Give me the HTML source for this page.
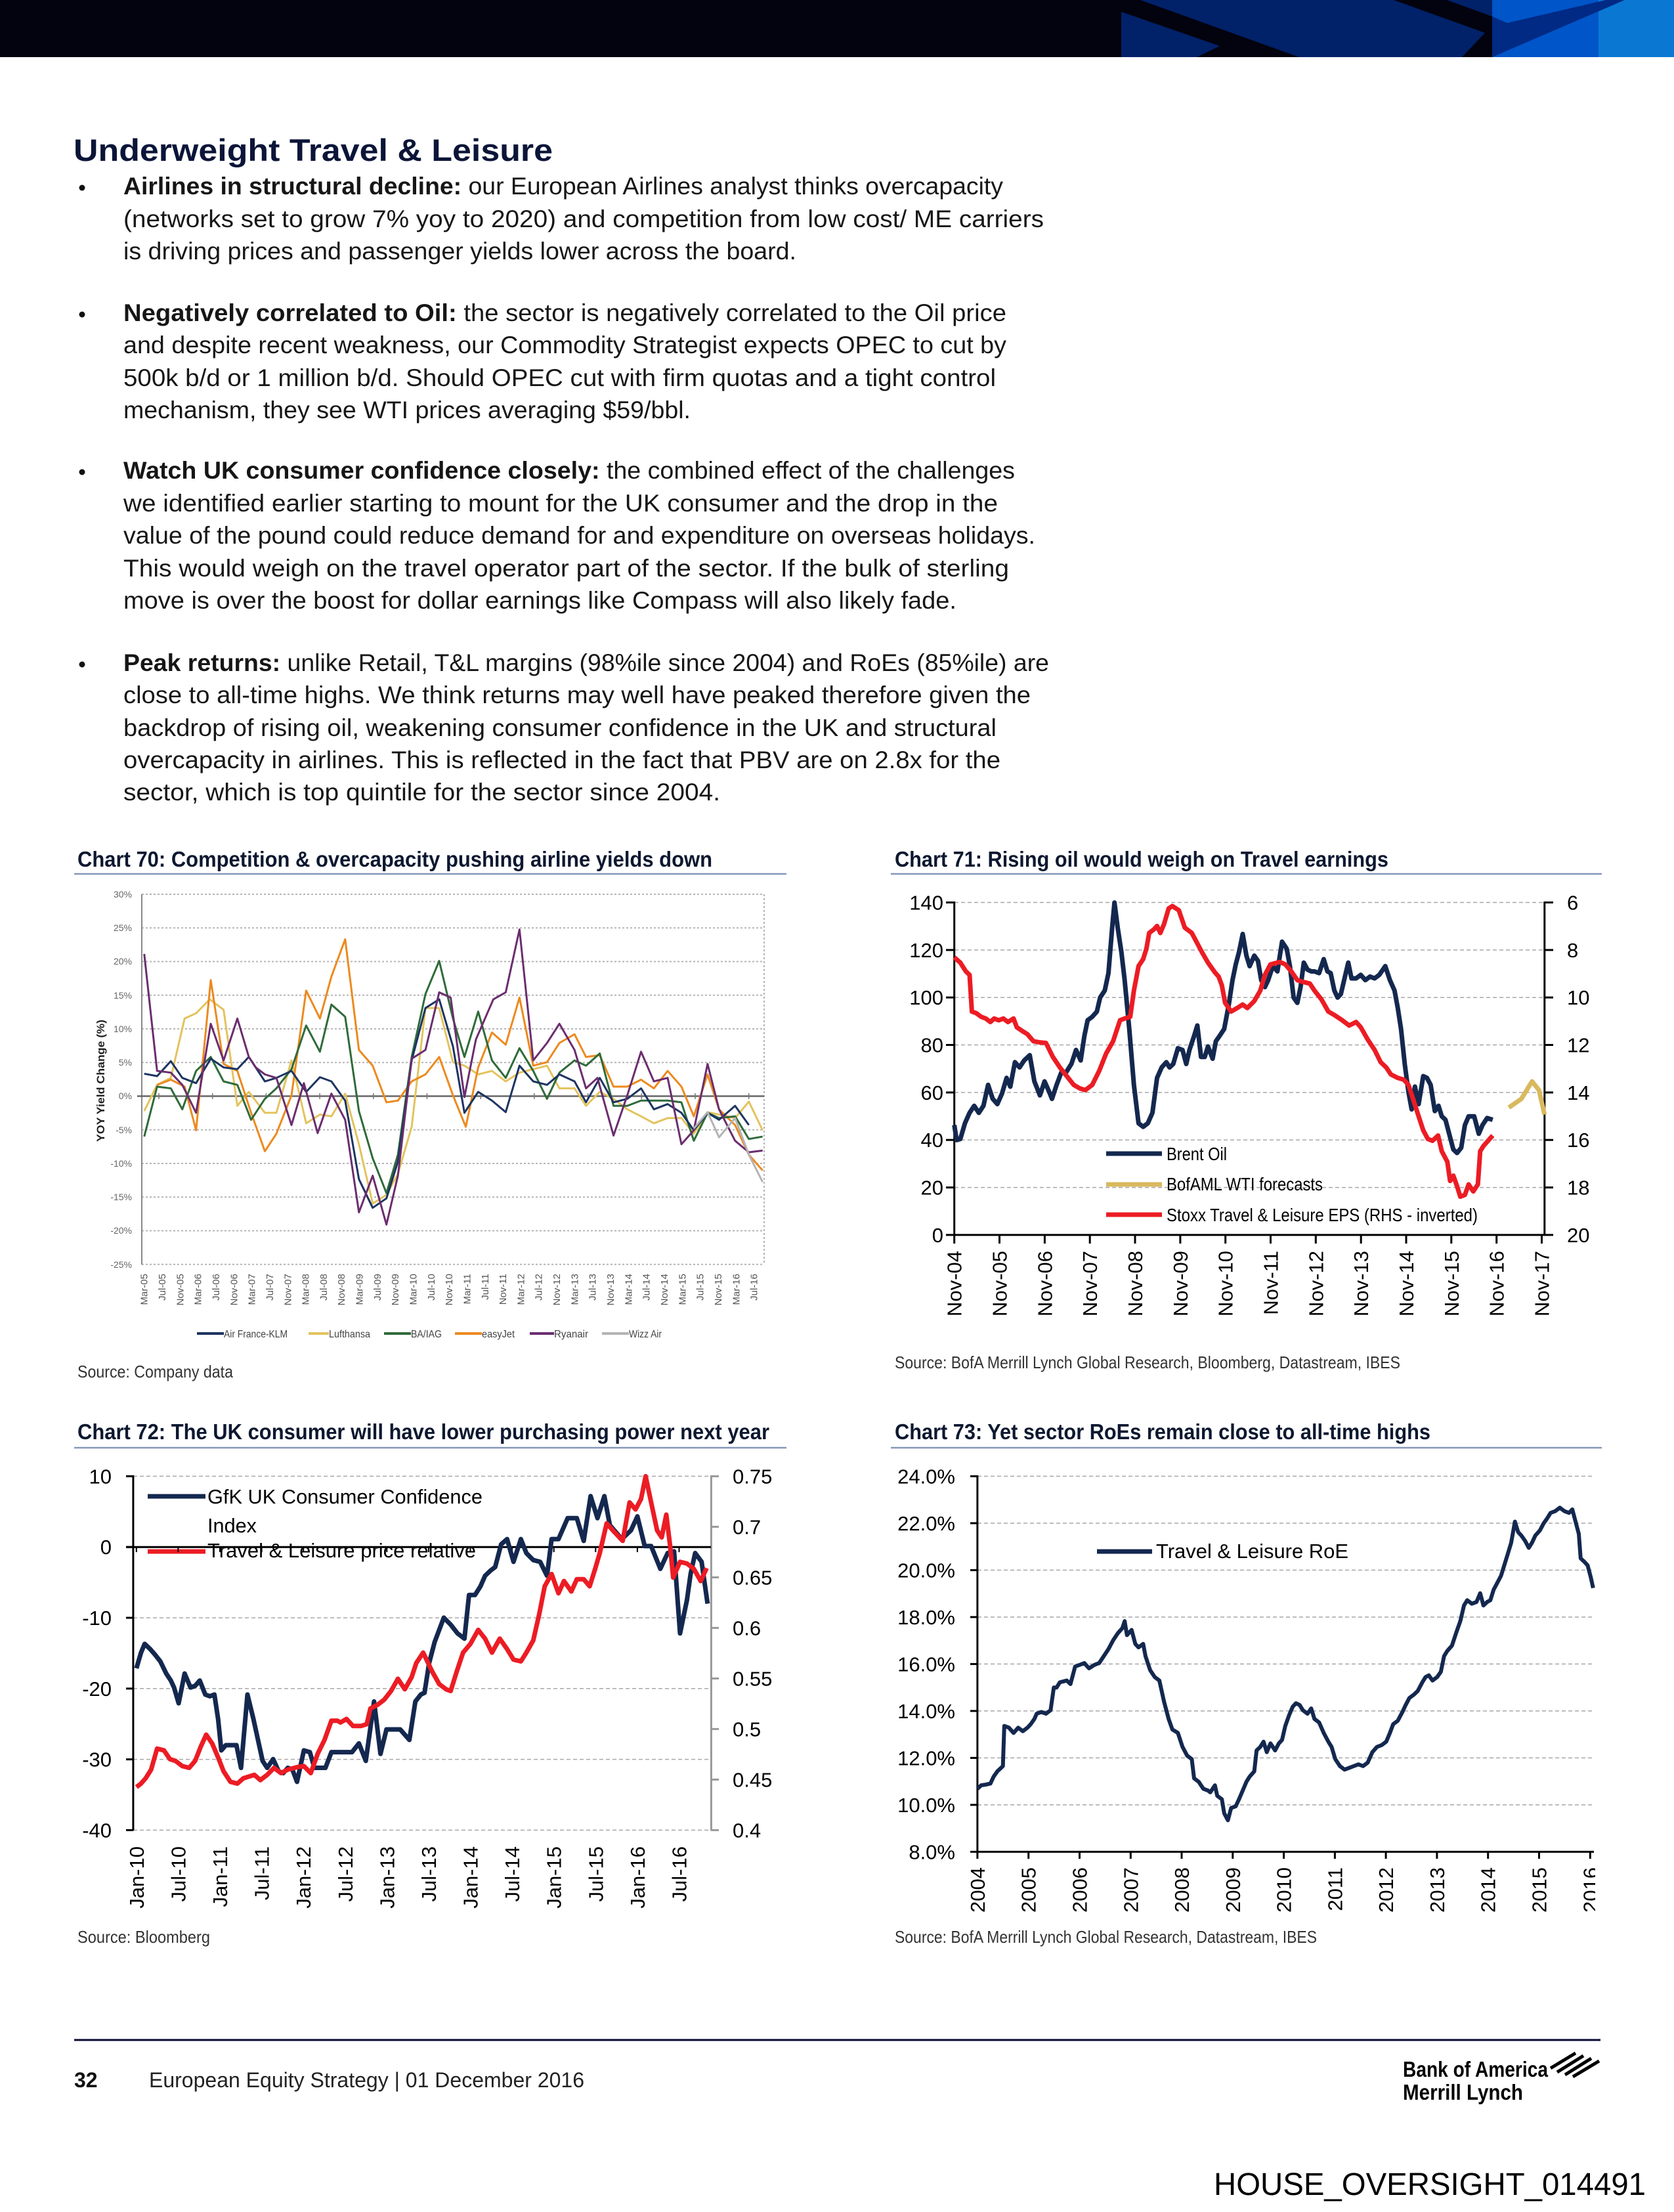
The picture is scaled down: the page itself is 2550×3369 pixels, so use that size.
<!DOCTYPE html>
<html><head><meta charset="utf-8"><style>
html,body{margin:0;padding:0;background:#fff}
svg{display:block}
text{font-family:"Liberation Sans",sans-serif}
</style></head><body>
<svg width="2550" height="3369" viewBox="0 0 2550 3369" xmlns="http://www.w3.org/2000/svg">
<defs><clipPath id="c73" clipPathUnits="userSpaceOnUse"><rect x="1350" y="2210" width="1080" height="740"/></clipPath></defs>
<rect width="2550" height="3369" fill="#fff"/>
<!-- header -->
<rect x="0" y="0" width="2550" height="87" fill="#03030f"/>
<rect x="1708" y="0" width="565" height="87" fill="#012169"/>
<polygon points="1708,0 1737,0 1979,87 1823,87 1858,70 1708,18" fill="#03030f"/>
<polygon points="2123,0 2204,0 2273,25 2273,87 2227,87 2262,50" fill="#03030f"/>
<rect x="2273" y="0" width="162" height="87" fill="#0055c8"/>
<rect x="2435" y="0" width="115" height="87" fill="#0a78d2"/>
<polygon points="2273,25 2296,35 2446,0 2475,0 2273,87" fill="#012a85"/>
<!-- title -->
<text x="112" y="245" font-size="47" font-weight="bold" fill="#0b1538" textLength="730" lengthAdjust="spacingAndGlyphs">Underweight Travel &amp; Leisure</text>
<g font-size="37" fill="#161616">
<circle cx="125" cy="286" r="4.5" fill="#111"/>
<text x="188" y="296" textLength="1340" lengthAdjust="spacingAndGlyphs"><tspan font-weight="bold">Airlines in structural decline:</tspan> our European Airlines analyst thinks overcapacity</text>
<text x="188" y="346" textLength="1402" lengthAdjust="spacingAndGlyphs">(networks set to grow 7% yoy to 2020) and competition from low cost/ ME carriers</text>
<text x="188" y="395" textLength="1025" lengthAdjust="spacingAndGlyphs">is driving prices and passenger yields lower across the board.</text>
<circle cx="125" cy="479" r="4.5" fill="#111"/>
<text x="188" y="489" textLength="1345" lengthAdjust="spacingAndGlyphs"><tspan font-weight="bold">Negatively correlated to Oil:</tspan> the sector is negatively correlated to the Oil price</text>
<text x="188" y="538" textLength="1345" lengthAdjust="spacingAndGlyphs">and despite recent weakness, our Commodity Strategist expects OPEC to cut by</text>
<text x="188" y="588" textLength="1329" lengthAdjust="spacingAndGlyphs">500k b/d or 1 million b/d. Should OPEC cut with firm quotas and a tight control</text>
<text x="188" y="637" textLength="864" lengthAdjust="spacingAndGlyphs">mechanism, they see WTI prices averaging $59/bbl.</text>
<circle cx="125" cy="719" r="4.5" fill="#111"/>
<text x="188" y="729" textLength="1358" lengthAdjust="spacingAndGlyphs"><tspan font-weight="bold">Watch UK consumer confidence closely:</tspan> the combined effect of the challenges</text>
<text x="188" y="779" textLength="1332" lengthAdjust="spacingAndGlyphs">we identified earlier starting to mount for the UK consumer and the drop in the</text>
<text x="188" y="828" textLength="1389" lengthAdjust="spacingAndGlyphs">value of the pound could reduce demand for and expenditure on overseas holidays.</text>
<text x="188" y="878" textLength="1349" lengthAdjust="spacingAndGlyphs">This would weigh on the travel operator part of the sector. If the bulk of sterling</text>
<text x="188" y="927" textLength="1269" lengthAdjust="spacingAndGlyphs">move is over the boost for dollar earnings like Compass will also likely fade.</text>
<circle cx="125" cy="1012" r="4.5" fill="#111"/>
<text x="188" y="1022" textLength="1410" lengthAdjust="spacingAndGlyphs"><tspan font-weight="bold">Peak returns:</tspan> unlike Retail, T&amp;L margins (98%ile since 2004) and RoEs (85%ile) are</text>
<text x="188" y="1071" textLength="1382" lengthAdjust="spacingAndGlyphs">close to all-time highs. We think returns may well have peaked therefore given the</text>
<text x="188" y="1121" textLength="1330" lengthAdjust="spacingAndGlyphs">backdrop of rising oil, weakening consumer confidence in the UK and structural</text>
<text x="188" y="1170" textLength="1336" lengthAdjust="spacingAndGlyphs">overcapacity in airlines. This is reflected in the fact that PBV are on 2.8x for the</text>
<text x="188" y="1219" textLength="909" lengthAdjust="spacingAndGlyphs">sector, which is top quintile for the sector since 2004.</text>
</g>

<!-- chart titles -->
<g font-size="33" font-weight="bold" fill="#0d1830">
<text x="118" y="1320" textLength="967" lengthAdjust="spacingAndGlyphs">Chart 70: Competition &amp; overcapacity pushing airline yields down</text>
<text x="1363" y="1320" textLength="752" lengthAdjust="spacingAndGlyphs">Chart 71: Rising oil would weigh on Travel earnings</text>
<text x="118" y="2192" textLength="1054" lengthAdjust="spacingAndGlyphs">Chart 72: The UK consumer will have lower purchasing power next year</text>
<text x="1363" y="2192" textLength="816" lengthAdjust="spacingAndGlyphs">Chart 73: Yet sector RoEs remain close to all-time highs</text>
</g>
<g stroke="#8497b8" stroke-width="2.5">
<line x1="113" y1="1331" x2="1198" y2="1331"/>
<line x1="1357" y1="1331" x2="2440" y2="1331"/>
<line x1="113" y1="2205" x2="1198" y2="2205"/>
<line x1="1357" y1="2205" x2="2440" y2="2205"/>
</g>
<!-- sources -->
<g font-size="26" fill="#333">
<text x="118" y="2098" textLength="237" lengthAdjust="spacingAndGlyphs">Source: Company data</text>
<text x="1363" y="2084" textLength="770" lengthAdjust="spacingAndGlyphs">Source: BofA Merrill Lynch Global Research, Bloomberg, Datastream, IBES</text>
<text x="118" y="2959" textLength="202" lengthAdjust="spacingAndGlyphs">Source: Bloomberg</text>
<text x="1363" y="2959" textLength="643" lengthAdjust="spacingAndGlyphs">Source: BofA Merrill Lynch Global Research, Datastream, IBES</text>
</g>

<!-- ===== CHART 70 ===== -->
<g stroke="#b5b5b5" stroke-width="2" stroke-dasharray="3,3">
<line x1="216" y1="1362" x2="1164" y2="1362"/>
<line x1="216" y1="1413.3" x2="1164" y2="1413.3"/>
<line x1="216" y1="1464.5" x2="1164" y2="1464.5"/>
<line x1="216" y1="1515.8" x2="1164" y2="1515.8"/>
<line x1="216" y1="1567" x2="1164" y2="1567"/>
<line x1="216" y1="1618.3" x2="1164" y2="1618.3"/>
<line x1="216" y1="1720.8" x2="1164" y2="1720.8"/>
<line x1="216" y1="1772" x2="1164" y2="1772"/>
<line x1="216" y1="1823.3" x2="1164" y2="1823.3"/>
<line x1="216" y1="1874.5" x2="1164" y2="1874.5"/>
<line x1="216" y1="1925.8" x2="1164" y2="1925.8"/>
<line x1="1164" y1="1362" x2="1164" y2="1926"/>
</g>
<line x1="216" y1="1362" x2="216" y2="1926" stroke="#888" stroke-width="2"/>
<line x1="209" y1="1669.5" x2="1164" y2="1669.5" stroke="#666" stroke-width="2.5"/>
<g stroke="#777" stroke-width="1.5">
<line x1="242" y1="1665" x2="242" y2="1674"/><line x1="323.7" y1="1665" x2="323.7" y2="1674"/><line x1="405.4" y1="1665" x2="405.4" y2="1674"/><line x1="487.1" y1="1665" x2="487.1" y2="1674"/><line x1="568.8" y1="1665" x2="568.8" y2="1674"/><line x1="650.5" y1="1665" x2="650.5" y2="1674"/><line x1="732.2" y1="1665" x2="732.2" y2="1674"/><line x1="813.9" y1="1665" x2="813.9" y2="1674"/><line x1="895.6" y1="1665" x2="895.6" y2="1674"/><line x1="977.3" y1="1665" x2="977.3" y2="1674"/><line x1="1059" y1="1665" x2="1059" y2="1674"/><line x1="1140.7" y1="1665" x2="1140.7" y2="1674"/>
</g>
<g font-size="14" fill="#666" text-anchor="end">
<text x="201" y="1367">30%</text><text x="201" y="1418">25%</text><text x="201" y="1469">20%</text><text x="201" y="1521">15%</text><text x="201" y="1572">10%</text><text x="201" y="1623">5%</text><text x="201" y="1674">0%</text><text x="201" y="1726">-5%</text><text x="201" y="1777">-10%</text><text x="201" y="1828">-15%</text><text x="201" y="1879">-20%</text><text x="201" y="1931">-25%</text>
</g>
<text transform="translate(159,1646) rotate(-90)" text-anchor="middle" font-size="17" font-weight="bold" fill="#222" textLength="186" lengthAdjust="spacingAndGlyphs">YOY Yield Change (%)</text>
<g font-size="15" fill="#555" text-anchor="end">
<text transform="translate(224.7,1940) rotate(-90)">Mar-05</text>
<text transform="translate(252,1940) rotate(-90)">Jul-05</text>
<text transform="translate(279.3,1940) rotate(-90)">Nov-05</text>
<text transform="translate(306.7,1940) rotate(-90)">Mar-06</text>
<text transform="translate(334,1940) rotate(-90)">Jul-06</text>
<text transform="translate(361.3,1940) rotate(-90)">Nov-06</text>
<text transform="translate(388.6,1940) rotate(-90)">Mar-07</text>
<text transform="translate(415.9,1940) rotate(-90)">Jul-07</text>
<text transform="translate(443.3,1940) rotate(-90)">Nov-07</text>
<text transform="translate(470.6,1940) rotate(-90)">Mar-08</text>
<text transform="translate(497.9,1940) rotate(-90)">Jul-08</text>
<text transform="translate(525.2,1940) rotate(-90)">Nov-08</text>
<text transform="translate(552.5,1940) rotate(-90)">Mar-09</text>
<text transform="translate(579.9,1940) rotate(-90)">Jul-09</text>
<text transform="translate(607.2,1940) rotate(-90)">Nov-09</text>
<text transform="translate(634.5,1940) rotate(-90)">Mar-10</text>
<text transform="translate(661.8,1940) rotate(-90)">Jul-10</text>
<text transform="translate(689.1,1940) rotate(-90)">Nov-10</text>
<text transform="translate(716.5,1940) rotate(-90)">Mar-11</text>
<text transform="translate(743.8,1940) rotate(-90)">Jul-11</text>
<text transform="translate(771.1,1940) rotate(-90)">Nov-11</text>
<text transform="translate(798.4,1940) rotate(-90)">Mar-12</text>
<text transform="translate(825.7,1940) rotate(-90)">Jul-12</text>
<text transform="translate(853.1,1940) rotate(-90)">Nov-12</text>
<text transform="translate(880.4,1940) rotate(-90)">Mar-13</text>
<text transform="translate(907.7,1940) rotate(-90)">Jul-13</text>
<text transform="translate(935,1940) rotate(-90)">Nov-13</text>
<text transform="translate(962.3,1940) rotate(-90)">Mar-14</text>
<text transform="translate(989.7,1940) rotate(-90)">Jul-14</text>
<text transform="translate(1017,1940) rotate(-90)">Nov-14</text>
<text transform="translate(1044.3,1940) rotate(-90)">Mar-15</text>
<text transform="translate(1071.6,1940) rotate(-90)">Jul-15</text>
<text transform="translate(1098.9,1940) rotate(-90)">Nov-15</text>
<text transform="translate(1126.3,1940) rotate(-90)">Mar-16</text>
<text transform="translate(1153.6,1940) rotate(-90)">Jul-16</text>
</g>
<g transform="matrix(0.6988 0 0 0.5319 110 1280)" fill="none" stroke-width="3" stroke-linejoin="round">
<polyline vector-effect="non-scaling-stroke" stroke="#e3c35e" points="157,775 185,700 215,680 245,510 270,495 300,455 330,485 360,760 385,720 420,780 445,780 478,630 510,810 540,785 565,790 595,725 625,870 655,1040 685,1015 710,955 740,820 770,480 800,480 830,635 855,645 885,670 915,660 945,690 975,665 1005,655 1035,645 1062,710 1095,710 1120,760 1150,720 1180,740 1210,770 1240,790 1268,810 1298,795 1328,795 1355,840 1385,778 1410,785 1445,795 1475,748 1505,830"/>
<polyline vector-effect="non-scaling-stroke" stroke="#ec8a1f" points="185,700 215,685 245,705 270,830 302,400 330,640 360,660 390,780 420,890 445,840 478,730 510,430 540,510 565,390 595,283 625,600 655,645 685,750 710,745 740,690 770,670 800,620 830,730 858,820 885,650 915,550 945,585 975,450 1005,645 1035,635 1062,580 1095,555 1120,620 1150,615 1180,705 1210,705 1240,685 1268,710 1298,660 1328,705 1355,790 1385,670 1410,770 1445,815 1475,900 1505,945"/>
<polyline vector-effect="non-scaling-stroke" stroke="#2f6b3a" points="157,848 185,705 215,710 240,770 270,660 302,620 330,690 360,700 390,800 420,740 445,710 478,655 510,530 540,605 565,470 595,505 625,775 655,910 685,1010 710,900 740,620 770,440 800,345 830,510 855,620 885,490 915,630 945,680 975,595 1005,660 1035,740 1062,665 1095,630 1120,645 1150,610 1180,760 1210,760 1240,745 1268,745 1298,745 1328,750 1355,860 1385,780 1410,795 1445,790 1475,855 1505,848"/>
<polyline vector-effect="non-scaling-stroke" stroke="#1d3461" points="157,668 185,675 215,632 240,680 270,695 302,625 330,650 360,655 385,620 420,690 445,680 478,660 510,720 540,678 565,690 595,745 625,970 655,1052 685,1025 710,920 740,630 770,480 800,455 830,590 855,780 885,720 915,745 945,778 975,645 1005,690 1035,700 1062,670 1095,690 1120,750 1150,680 1180,750 1210,740 1240,710 1268,770 1298,755 1328,780 1355,830 1385,780 1410,800 1445,760 1475,815"/>
<polyline vector-effect="non-scaling-stroke" stroke="#6b2d6f" points="157,325 185,660 215,665 240,700 270,780 302,525 330,630 360,510 385,620 400,650 420,670 445,680 478,815 505,695 535,838 565,725 595,800 625,1065 655,960 685,1100 710,960 740,625 770,600 800,435 825,450 855,735 880,570 918,455 945,435 975,255 1005,630 1035,580 1062,525 1095,600 1120,710 1145,680 1180,845 1210,730 1240,605 1268,690 1298,680 1328,870 1355,830 1385,640 1410,770 1445,860 1475,893 1505,888"/>
<polyline vector-effect="non-scaling-stroke" stroke="#b4b4b4" points="1355,825 1385,778 1410,850 1445,795 1475,900 1505,978"/>
</g>
<g stroke-width="4">
<line x1="300" y1="2031" x2="341" y2="2031" stroke="#1d3461"/>
<line x1="470" y1="2031" x2="501" y2="2031" stroke="#e3c35e"/>
<line x1="585" y1="2031" x2="626" y2="2031" stroke="#2f6b3a"/>
<line x1="693" y1="2031" x2="734" y2="2031" stroke="#ec8a1f"/>
<line x1="807" y1="2031" x2="844" y2="2031" stroke="#6b2d6f"/>
<line x1="917" y1="2031" x2="958" y2="2031" stroke="#b4b4b4"/>
</g>
<g font-size="16" fill="#444">
<text x="341" y="2037" textLength="97" lengthAdjust="spacingAndGlyphs">Air France-KLM</text>
<text x="501" y="2037" textLength="63" lengthAdjust="spacingAndGlyphs">Lufthansa</text>
<text x="626" y="2037" textLength="47" lengthAdjust="spacingAndGlyphs">BA/IAG</text>
<text x="734" y="2037" textLength="50" lengthAdjust="spacingAndGlyphs">easyJet</text>
<text x="844" y="2037" textLength="52" lengthAdjust="spacingAndGlyphs">Ryanair</text>
<text x="958" y="2037" textLength="50" lengthAdjust="spacingAndGlyphs">Wizz Air</text>
</g>

<!-- ===== CHART 71 ===== -->
<g stroke="#a8a8a8" stroke-width="1.5" stroke-dasharray="6,4">
<line x1="1454" y1="1374.5" x2="2353" y2="1374.5"/>
<line x1="1454" y1="1446.9" x2="2353" y2="1446.9"/>
<line x1="1454" y1="1519.2" x2="2353" y2="1519.2"/>
<line x1="1454" y1="1591.5" x2="2353" y2="1591.5"/>
<line x1="1454" y1="1663.9" x2="2353" y2="1663.9"/>
<line x1="1454" y1="1736.2" x2="2353" y2="1736.2"/>
<line x1="1454" y1="1808.6" x2="2353" y2="1808.6"/>
</g>
<g stroke="#000" stroke-width="3">
<line x1="1453.7" y1="1373" x2="1453.7" y2="1882"/>
<line x1="2352.8" y1="1373" x2="2352.8" y2="1882"/>
<line x1="1441" y1="1880.9" x2="2366" y2="1880.9"/>
<line x1="1441" y1="1374.5" x2="1454" y2="1374.5"/><line x1="1441" y1="1446.9" x2="1454" y2="1446.9"/><line x1="1441" y1="1519.2" x2="1454" y2="1519.2"/><line x1="1441" y1="1591.5" x2="1454" y2="1591.5"/><line x1="1441" y1="1663.9" x2="1454" y2="1663.9"/><line x1="1441" y1="1736.2" x2="1454" y2="1736.2"/><line x1="1441" y1="1808.6" x2="1454" y2="1808.6"/>
<line x1="2353" y1="1374.5" x2="2366" y2="1374.5"/><line x1="2353" y1="1446.9" x2="2366" y2="1446.9"/><line x1="2353" y1="1519.2" x2="2366" y2="1519.2"/><line x1="2353" y1="1591.5" x2="2366" y2="1591.5"/><line x1="2353" y1="1663.9" x2="2366" y2="1663.9"/><line x1="2353" y1="1736.2" x2="2366" y2="1736.2"/><line x1="2353" y1="1808.6" x2="2366" y2="1808.6"/>
<line x1="1453.7" y1="1881" x2="1453.7" y2="1894"/><line x1="1522.5" y1="1881" x2="1522.5" y2="1894"/><line x1="1591.4" y1="1881" x2="1591.4" y2="1894"/><line x1="1660.2" y1="1881" x2="1660.2" y2="1894"/><line x1="1729" y1="1881" x2="1729" y2="1894"/><line x1="1797.9" y1="1881" x2="1797.9" y2="1894"/><line x1="1866.7" y1="1881" x2="1866.7" y2="1894"/><line x1="1935.5" y1="1881" x2="1935.5" y2="1894"/><line x1="2004.3" y1="1881" x2="2004.3" y2="1894"/><line x1="2073.2" y1="1881" x2="2073.2" y2="1894"/><line x1="2142" y1="1881" x2="2142" y2="1894"/><line x1="2210.8" y1="1881" x2="2210.8" y2="1894"/><line x1="2279.7" y1="1881" x2="2279.7" y2="1894"/><line x1="2348.5" y1="1881" x2="2348.5" y2="1894"/>
</g>
<g font-size="31" fill="#000">
<g text-anchor="end">
<text x="1437" y="1385.5">140</text><text x="1437" y="1457.9">120</text><text x="1437" y="1530.2">100</text><text x="1437" y="1602.5">80</text><text x="1437" y="1674.9">60</text><text x="1437" y="1747.2">40</text><text x="1437" y="1819.6">20</text><text x="1437" y="1891.9">0</text>
</g>
<text x="2387" y="1385.5">6</text><text x="2387" y="1457.9">8</text><text x="2387" y="1530.2">10</text><text x="2387" y="1602.5">12</text><text x="2387" y="1674.9">14</text><text x="2387" y="1747.2">16</text><text x="2387" y="1819.6">18</text><text x="2387" y="1891.9">20</text>
<g text-anchor="end">
<text transform="translate(1464.7,1905) rotate(-90)">Nov-04</text>
<text transform="translate(1533.5,1905) rotate(-90)">Nov-05</text>
<text transform="translate(1602.4,1905) rotate(-90)">Nov-06</text>
<text transform="translate(1671.2,1905) rotate(-90)">Nov-07</text>
<text transform="translate(1740,1905) rotate(-90)">Nov-08</text>
<text transform="translate(1808.9,1905) rotate(-90)">Nov-09</text>
<text transform="translate(1877.7,1905) rotate(-90)">Nov-10</text>
<text transform="translate(1946.5,1905) rotate(-90)">Nov-11</text>
<text transform="translate(2015.3,1905) rotate(-90)">Nov-12</text>
<text transform="translate(2084.2,1905) rotate(-90)">Nov-13</text>
<text transform="translate(2153,1905) rotate(-90)">Nov-14</text>
<text transform="translate(2221.8,1905) rotate(-90)">Nov-15</text>
<text transform="translate(2290.7,1905) rotate(-90)">Nov-16</text>
<text transform="translate(2359.5,1905) rotate(-90)">Nov-17</text>
</g>
</g>
<g transform="matrix(0.7052 0 0 0.5319 1350 1280)" fill="none" stroke-width="7" stroke-linejoin="round">
<polyline vector-effect="non-scaling-stroke" stroke="#14284f" points="147,815 152,858 160,855 170,810 180,780 190,760 200,780 210,760 220,700 230,740 240,755 250,725 260,680 268,705 278,635 288,650 298,630 310,615 320,690 332,730 342,690 352,720 358,740 368,700 378,665 388,665 400,640 410,600 420,630 428,560 435,515 445,505 455,490 462,450 472,430 480,380 488,250 493,178 500,250 508,320 515,400 525,540 535,700 545,810 555,820 565,810 575,780 585,680 595,650 605,635 612,650 620,640 630,595 640,600 648,640 655,600 665,560 672,530 680,620 688,620 695,590 705,625 712,575 720,560 730,540 740,470 748,400 755,355 762,320 770,268 778,330 785,360 795,330 803,345 810,400 818,420 825,400 835,360 845,375 855,290 865,310 872,360 880,450 888,465 895,420 902,350 910,370 918,375 925,375 935,380 945,340 953,375 960,380 968,430 975,450 982,440 990,395 998,350 1005,395 1015,395 1025,385 1035,400 1045,390 1055,395 1065,385 1078,360 1088,400 1098,430 1105,480 1112,540 1120,640 1128,720 1135,770 1142,705 1150,755 1160,675 1168,680 1176,700 1185,775 1193,760 1200,790 1208,800 1216,840 1225,885 1233,895 1242,880 1250,815 1258,790 1270,790 1280,840 1288,815 1298,795 1310,800"/>
<polyline vector-effect="non-scaling-stroke" stroke="#d9b95e" points="1345,765 1372,740 1395,690 1410,715 1422,785"/>
<polyline vector-effect="non-scaling-stroke" stroke="#ec1c24" points="147,335 160,350 172,375 180,385 185,490 195,495 205,505 215,510 225,520 233,510 243,515 253,510 263,520 275,510 282,535 293,545 305,555 318,575 330,578 345,580 360,620 375,650 390,675 405,700 418,710 430,715 445,700 460,660 475,610 490,575 505,515 515,510 527,505 535,430 545,360 555,340 562,310 568,265 578,255 585,245 592,265 600,240 610,195 618,188 632,200 645,250 660,265 670,290 682,320 695,350 710,378 718,390 725,415 732,465 745,490 758,480 770,470 780,480 795,460 808,430 818,385 830,355 850,348 862,355 875,375 888,400 900,405 915,410 925,430 940,455 955,490 968,500 985,515 1000,530 1015,520 1025,535 1040,570 1055,600 1068,635 1080,650 1090,670 1105,680 1118,685 1128,700 1138,740 1150,790 1160,830 1170,855 1180,860 1192,845 1200,890 1212,920 1218,975 1225,960 1233,990 1240,1020 1250,1015 1258,985 1268,1005 1278,985 1283,890 1290,875 1300,860 1310,845"/>
</g>
<g stroke-width="7">
<line x1="1685" y1="1757" x2="1770" y2="1757" stroke="#14284f"/>
<line x1="1685" y1="1804" x2="1770" y2="1804" stroke="#d9b95e"/>
<line x1="1685" y1="1850" x2="1770" y2="1850" stroke="#ec1c24"/>
</g>
<g font-size="28" fill="#000">
<text x="1777" y="1767" textLength="92" lengthAdjust="spacingAndGlyphs">Brent Oil</text>
<text x="1777" y="1813" textLength="238" lengthAdjust="spacingAndGlyphs">BofAML WTI forecasts</text>
<text x="1777" y="1860" textLength="474" lengthAdjust="spacingAndGlyphs">Stoxx Travel &amp; Leisure EPS (RHS - inverted)</text>
</g>

<!-- ===== CHART 72 ===== -->
<g stroke="#a8a8a8" stroke-width="1.5" stroke-dasharray="6,4">
<line x1="203" y1="2248.4" x2="1083" y2="2248.4"/>
<line x1="203" y1="2464" x2="1083" y2="2464"/>
<line x1="203" y1="2571.8" x2="1083" y2="2571.8"/>
<line x1="203" y1="2679.6" x2="1083" y2="2679.6"/>
<line x1="203" y1="2787.4" x2="1083" y2="2787.4"/>
</g>
<g stroke="#000" stroke-width="3">
<line x1="202.9" y1="2247" x2="202.9" y2="2788"/>
<line x1="192" y1="2248.4" x2="203" y2="2248.4"/><line x1="192" y1="2356.2" x2="203" y2="2356.2"/><line x1="192" y1="2464" x2="203" y2="2464"/><line x1="192" y1="2571.8" x2="203" y2="2571.8"/><line x1="192" y1="2679.6" x2="203" y2="2679.6"/><line x1="192" y1="2787.4" x2="203" y2="2787.4"/>
</g>
<g stroke="#999" stroke-width="3">
<line x1="1083.4" y1="2247" x2="1083.4" y2="2788"/>
<line x1="1083" y1="2248.4" x2="1095" y2="2248.4"/><line x1="1083" y1="2325.4" x2="1095" y2="2325.4"/><line x1="1083" y1="2402.4" x2="1095" y2="2402.4"/><line x1="1083" y1="2479.4" x2="1095" y2="2479.4"/><line x1="1083" y1="2556.4" x2="1095" y2="2556.4"/><line x1="1083" y1="2633.4" x2="1095" y2="2633.4"/><line x1="1083" y1="2710.4" x2="1095" y2="2710.4"/><line x1="1083" y1="2787.4" x2="1095" y2="2787.4"/>
</g>
<g font-size="31" fill="#000">
<g text-anchor="end">
<text x="170" y="2259.4">10</text><text x="170" y="2367.2">0</text><text x="170" y="2475">-10</text><text x="170" y="2582.8">-20</text><text x="170" y="2690.6">-30</text><text x="170" y="2798.4">-40</text>
</g>
<text x="1116" y="2259.4">0.75</text><text x="1116" y="2336.4">0.7</text><text x="1116" y="2413.4">0.65</text><text x="1116" y="2490.4">0.6</text><text x="1116" y="2567.4">0.55</text><text x="1116" y="2644.4">0.5</text><text x="1116" y="2721.4">0.45</text><text x="1116" y="2798.4">0.4</text>
<g text-anchor="end">
<text transform="translate(218.8,2812) rotate(-90)">Jan-10</text>
<text transform="translate(282.4,2812) rotate(-90)">Jul-10</text>
<text transform="translate(346,2812) rotate(-90)">Jan-11</text>
<text transform="translate(409.6,2812) rotate(-90)">Jul-11</text>
<text transform="translate(473.2,2812) rotate(-90)">Jan-12</text>
<text transform="translate(536.8,2812) rotate(-90)">Jul-12</text>
<text transform="translate(600.3,2812) rotate(-90)">Jan-13</text>
<text transform="translate(663.9,2812) rotate(-90)">Jul-13</text>
<text transform="translate(727.5,2812) rotate(-90)">Jan-14</text>
<text transform="translate(791.1,2812) rotate(-90)">Jul-14</text>
<text transform="translate(854.7,2812) rotate(-90)">Jan-15</text>
<text transform="translate(918.3,2812) rotate(-90)">Jul-15</text>
<text transform="translate(981.9,2812) rotate(-90)">Jan-16</text>
<text transform="translate(1045.5,2812) rotate(-90)">Jul-16</text>
</g>
</g>
<g stroke-width="7">
<line x1="225" y1="2279" x2="313" y2="2279" stroke="#14284f"/>
<line x1="225" y1="2363" x2="313" y2="2363" stroke="#ec1c24"/>
</g>
<g font-size="31" fill="#000">
<text x="316" y="2290" textLength="419" lengthAdjust="spacingAndGlyphs">GfK UK Consumer Confidence</text>
<text x="316" y="2334" textLength="75" lengthAdjust="spacingAndGlyphs">Index</text>
<text x="316" y="2372" textLength="409" lengthAdjust="spacingAndGlyphs">Travel &amp; Leisure price relative</text>
</g>
<line x1="192" y1="2356.2" x2="1083" y2="2356.2" stroke="#000" stroke-width="3"/>
<g stroke="#000" stroke-width="2">
<line x1="207.8" y1="2356" x2="207.8" y2="2364"/><line x1="271.4" y1="2356" x2="271.4" y2="2364"/><line x1="335" y1="2356" x2="335" y2="2364"/><line x1="398.6" y1="2356" x2="398.6" y2="2364"/><line x1="462.2" y1="2356" x2="462.2" y2="2364"/><line x1="525.8" y1="2356" x2="525.8" y2="2364"/><line x1="589.3" y1="2356" x2="589.3" y2="2364"/><line x1="652.9" y1="2356" x2="652.9" y2="2364"/><line x1="716.5" y1="2356" x2="716.5" y2="2364"/><line x1="780.1" y1="2356" x2="780.1" y2="2364"/><line x1="843.7" y1="2356" x2="843.7" y2="2364"/><line x1="907.3" y1="2356" x2="907.3" y2="2364"/><line x1="970.9" y1="2356" x2="970.9" y2="2364"/><line x1="1034.5" y1="2356" x2="1034.5" y2="2364"/>
</g>
<g transform="matrix(0.6988 0 0 0.5319 110 2150)" fill="none" stroke-width="7" stroke-linejoin="round">
<polyline vector-effect="non-scaling-stroke" stroke="#14284f" points="140,735 150,690 158,665 170,680 180,695 192,715 205,750 215,770 222,790 232,835 245,750 258,790 268,785 278,770 290,810 300,815 310,810 318,880 325,970 335,955 348,955 358,955 368,1020 382,810 395,880 405,940 415,1000 425,1020 438,995 450,1030 460,1035 470,1020 480,1025 490,1060 505,970 518,975 528,1020 540,1020 552,1020 565,975 580,975 595,975 610,975 625,950 640,1000 658,830 672,980 685,910 700,910 715,910 735,940 748,830 760,810 768,805 778,720 790,660 800,625 810,590 825,610 840,635 855,650 865,525 878,525 890,500 900,470 912,455 922,445 935,380 948,365 962,430 978,365 990,405 1005,425 1020,430 1035,470 1045,365 1060,365 1080,305 1100,305 1115,370 1130,242 1145,305 1160,242 1172,325 1185,345 1198,365 1218,340 1232,300 1248,385 1262,385 1282,450 1298,405 1312,400 1325,635 1340,540 1348,465 1358,405 1372,430 1385,550"/>
<polyline vector-effect="non-scaling-stroke" stroke="#ec1c24" points="140,1075 150,1065 160,1050 172,1025 185,965 200,970 213,995 225,1000 240,1015 255,1020 268,1000 280,960 292,925 305,950 318,990 330,1030 345,1060 360,1065 373,1050 385,1045 397,1040 410,1055 425,1040 440,1020 455,1035 470,1025 490,1018 505,1015 520,1035 535,980 550,940 565,885 578,885 585,890 598,880 612,900 630,900 642,895 650,850 665,840 680,825 695,800 710,765 725,795 740,760 750,720 765,690 785,745 800,780 815,795 825,800 838,745 852,690 868,665 885,625 900,650 915,690 932,650 948,680 962,710 978,715 990,690 1005,655 1018,580 1030,500 1045,465 1060,520 1072,485 1088,515 1100,480 1115,480 1128,500 1140,450 1150,405 1165,320 1182,345 1200,370 1215,260 1228,280 1240,250 1250,185 1262,260 1275,340 1285,360 1295,295 1303,380 1310,475 1325,430 1340,435 1355,450 1370,485 1383,448"/>
</g>

<!-- ===== CHART 73 ===== -->
<g stroke="#a8a8a8" stroke-width="1.5" stroke-dasharray="6,4">
<line x1="1489" y1="2248.4" x2="2427" y2="2248.4"/>
<line x1="1489" y1="2319.9" x2="2427" y2="2319.9"/>
<line x1="1489" y1="2391.4" x2="2427" y2="2391.4"/>
<line x1="1489" y1="2462.9" x2="2427" y2="2462.9"/>
<line x1="1489" y1="2534.4" x2="2427" y2="2534.4"/>
<line x1="1489" y1="2605.9" x2="2427" y2="2605.9"/>
<line x1="1489" y1="2677.4" x2="2427" y2="2677.4"/>
<line x1="1489" y1="2748.9" x2="2427" y2="2748.9"/>
</g>
<g stroke="#000" stroke-width="3">
<line x1="1488.9" y1="2247" x2="1488.9" y2="2821"/>
<line x1="1478" y1="2820.4" x2="2428" y2="2820.4"/>
<line x1="1478" y1="2248.4" x2="1489" y2="2248.4"/><line x1="1478" y1="2319.9" x2="1489" y2="2319.9"/><line x1="1478" y1="2391.4" x2="1489" y2="2391.4"/><line x1="1478" y1="2462.9" x2="1489" y2="2462.9"/><line x1="1478" y1="2534.4" x2="1489" y2="2534.4"/><line x1="1478" y1="2605.9" x2="1489" y2="2605.9"/><line x1="1478" y1="2677.4" x2="1489" y2="2677.4"/><line x1="1478" y1="2748.9" x2="1489" y2="2748.9"/>
<line x1="1488.9" y1="2820" x2="1488.9" y2="2831"/><line x1="1566.7" y1="2820" x2="1566.7" y2="2831"/><line x1="1644.5" y1="2820" x2="1644.5" y2="2831"/><line x1="1722.3" y1="2820" x2="1722.3" y2="2831"/><line x1="1800" y1="2820" x2="1800" y2="2831"/><line x1="1877.8" y1="2820" x2="1877.8" y2="2831"/><line x1="1955.6" y1="2820" x2="1955.6" y2="2831"/><line x1="2033.4" y1="2820" x2="2033.4" y2="2831"/><line x1="2111.1" y1="2820" x2="2111.1" y2="2831"/><line x1="2188.9" y1="2820" x2="2188.9" y2="2831"/><line x1="2266.7" y1="2820" x2="2266.7" y2="2831"/><line x1="2344.5" y1="2820" x2="2344.5" y2="2831"/><line x1="2422.3" y1="2820" x2="2422.3" y2="2831"/>
</g>
<g font-size="31" fill="#000">
<g text-anchor="end">
<text x="1455" y="2259.4">24.0%</text><text x="1455" y="2330.9">22.0%</text><text x="1455" y="2402.4">20.0%</text><text x="1455" y="2473.9">18.0%</text><text x="1455" y="2545.4">16.0%</text><text x="1455" y="2616.9">14.0%</text><text x="1455" y="2688.4">12.0%</text><text x="1455" y="2759.9">10.0%</text><text x="1455" y="2831.4">8.0%</text>
</g>
<g text-anchor="end" clip-path="url(#c73)">
<text transform="translate(1499.9,2844) rotate(-90)">2004</text>
<text transform="translate(1577.7,2844) rotate(-90)">2005</text>
<text transform="translate(1655.5,2844) rotate(-90)">2006</text>
<text transform="translate(1733.3,2844) rotate(-90)">2007</text>
<text transform="translate(1811,2844) rotate(-90)">2008</text>
<text transform="translate(1888.8,2844) rotate(-90)">2009</text>
<text transform="translate(1966.6,2844) rotate(-90)">2010</text>
<text transform="translate(2044.4,2844) rotate(-90)">2011</text>
<text transform="translate(2122.1,2844) rotate(-90)">2012</text>
<text transform="translate(2199.9,2844) rotate(-90)">2013</text>
<text transform="translate(2277.7,2844) rotate(-90)">2014</text>
<text transform="translate(2355.5,2844) rotate(-90)">2015</text>
<text transform="translate(2433.3,2844) rotate(-90)">2016</text>
</g>
</g>
<g clip-path="url(#c73)">
<g transform="matrix(0.7052 0 0 0.5319 1350 2150)" fill="none" stroke-width="6" stroke-linejoin="round">
<polyline vector-effect="non-scaling-stroke" stroke="#14284f" points="197,1080 205,1070 215,1068 225,1065 232,1045 240,1030 248,1020 252,1015 255,900 265,905 275,920 285,905 295,915 305,905 312,895 320,880 325,865 335,860 345,865 355,855 362,790 368,790 375,775 390,770 398,780 402,760 408,730 418,725 428,720 438,735 450,725 460,720 470,700 480,680 490,655 500,635 510,620 515,600 520,640 530,625 538,665 545,675 555,665 560,700 570,740 580,760 590,770 600,830 610,880 618,910 630,920 640,960 650,985 660,995 665,1050 675,1060 685,1080 695,1085 700,1090 710,1070 715,1100 725,1110 730,1150 738,1170 745,1135 755,1130 762,1110 770,1085 778,1060 785,1045 795,1030 800,970 808,960 815,945 822,975 830,950 840,970 848,950 855,940 862,900 870,870 878,845 885,835 893,840 900,855 910,865 918,850 925,880 935,890 945,920 955,945 962,960 970,995 980,1015 990,1025 1000,1020 1010,1015 1020,1010 1030,1015 1040,1005 1050,975 1060,960 1070,955 1080,945 1088,920 1095,895 1105,885 1115,860 1122,840 1130,820 1140,810 1148,800 1158,775 1165,760 1172,755 1180,770 1190,760 1198,745 1205,700 1212,685 1222,670 1232,630 1240,600 1248,555 1255,540 1265,550 1275,545 1283,520 1290,555 1298,545 1305,540 1312,510 1320,490 1328,470 1335,440 1342,410 1350,375 1358,315 1365,345 1372,355 1380,370 1388,390 1395,375 1402,355 1412,340 1420,320 1428,305 1435,290 1445,285 1455,275 1465,285 1475,290 1482,280 1490,320 1496,350 1500,420 1508,430 1515,440 1522,475 1527,505"/>
</g>
</g>
<line x1="1671" y1="2363" x2="1755" y2="2363" stroke="#14284f" stroke-width="7"/>
<text x="1761" y="2373" font-size="31" fill="#000" textLength="293" lengthAdjust="spacingAndGlyphs">Travel &amp; Leisure RoE</text>

<!-- footer -->
<line x1="113" y1="3107" x2="2438" y2="3107" stroke="#0a0a35" stroke-width="3"/>
<text x="113" y="3179" font-size="32" font-weight="bold" fill="#111">32</text>
<text x="227" y="3179" font-size="32" fill="#222" textLength="663" lengthAdjust="spacingAndGlyphs">European Equity Strategy | 01 December 2016</text>
<text x="2137" y="3163" font-size="33" font-weight="bold" fill="#000" textLength="221" lengthAdjust="spacingAndGlyphs">Bank of America</text>
<text x="2137" y="3198" font-size="33" font-weight="bold" fill="#000" textLength="183" lengthAdjust="spacingAndGlyphs">Merrill Lynch</text>
<g stroke="#000" stroke-width="5">
<line x1="2362" y1="3150" x2="2400" y2="3127"/>
<line x1="2372" y1="3156" x2="2412" y2="3131"/>
<line x1="2384" y1="3160" x2="2424" y2="3135"/>
<line x1="2396" y1="3163" x2="2436" y2="3139"/>
</g>
<text x="1849" y="3343" font-size="48" fill="#000" textLength="658" lengthAdjust="spacingAndGlyphs">HOUSE_OVERSIGHT_014491</text>
</svg>
</body></html>
